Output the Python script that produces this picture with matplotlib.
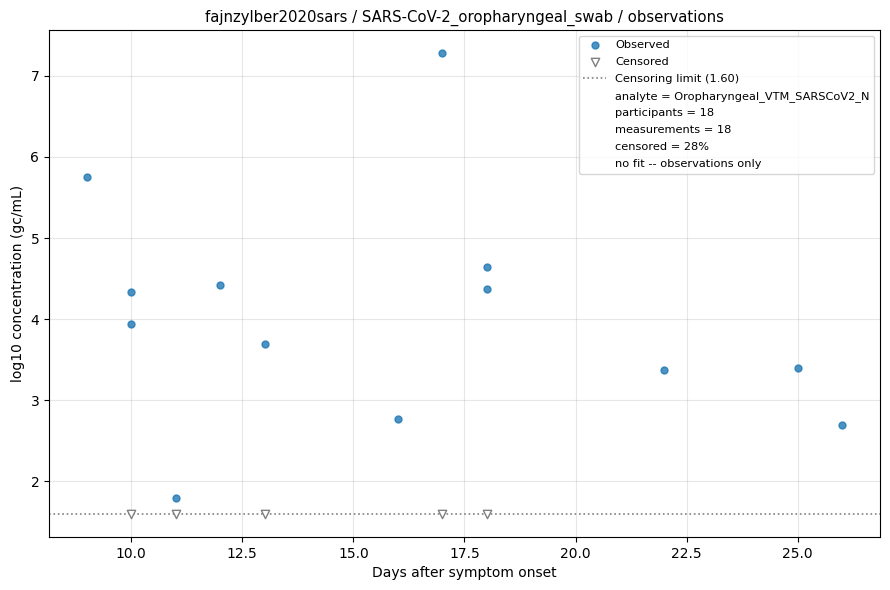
import numpy as np
import matplotlib.pyplot as plt
from matplotlib.lines import Line2D

# observados
obs_days = [9, 10, 10, 11, 12, 13, 16, 17, 18, 18, 22, 25, 26]
obs_conc = [5.75, 4.33, 3.94, 1.80, 4.42, 3.70, 2.77, 7.28, 4.64, 4.37, 3.37, 3.40, 2.70]

# censurados
cens_days = [10, 11, 13, 17, 18]
limit = 1.60

info_lines = ['analyte = Oropharyngeal_VTM_SARSCoV2_N',
              'participants = 18',
              'measurements = 18',
              'censored = 28%',
              'no fit -- observations only']

fig, ax = plt.subplots(figsize=(8.9, 5.9), dpi=100)
fig.subplots_adjust(left=49/890, right=880/890, top=1-30/590, bottom=1-537/590)

ax.scatter(obs_days, obs_conc, s=25, color='tab:blue', alpha=0.8, label='Observed', zorder=3)
ax.scatter(cens_days, [limit] * len(cens_days), s=36, marker='v', facecolors='white',
           edgecolors='grey', linewidths=1, label='Censored', zorder=3)
ax.axhline(limit, color='grey', linestyle=':', linewidth=1.2, label=f'Censoring limit ({limit:.2f})')

handles, labels = ax.get_legend_handles_labels()
for txt in info_lines:
    handles.append(Line2D([], [], linestyle='none', marker=None))
    labels.append(txt)
ax.legend(handles, labels, loc='upper right', fontsize=8.2, labelspacing=0.6)

ax.set_xlabel('Days after symptom onset')
ax.set_ylabel('log10 concentration (gc/mL)')
ax.set_title('fajnzylber2020sars / SARS-CoV-2_oropharyngeal_swab / observations', fontsize=10.7)
ax.grid(True, alpha=0.3)

plt.savefig('out.png')
